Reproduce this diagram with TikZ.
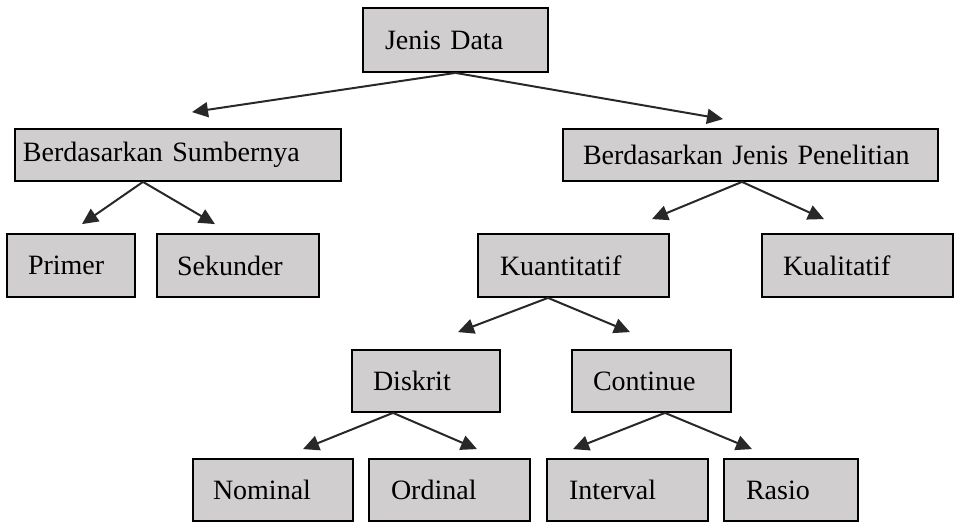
\documentclass[tikz,border=0pt]{standalone}
\usepackage{fontspec}
\setmainfont{Liberation Serif}
\usepackage{tikz}
\usetikzlibrary{arrows.meta}

\definecolor{boxgray}{RGB}{208,206,206}
\definecolor{arrowgray}{RGB}{40,40,40}

\begin{document}
\begin{tikzpicture}[
    x=0.5pt, y=-0.5pt,
    databox/.style={draw, fill=boxgray, line width=0.9pt, inner xsep=10.5pt,
        inner ysep=0pt, minimum height=31.5pt, align=left, text width=#1,
        font=\fontsize{14pt}{17pt}\selectfont},
    arrow/.style={-{Triangle[length=8pt, width=7.5pt]}, line width=1pt, arrowgray}
]
    \useasboundingbox[fill=white] (0,0) rectangle (955,522);

    % Root
    \node[databox=70.5pt, inner xsep=11pt, minimum height=32pt] (jd) at (455.5,40) {Jenis Data};

    % Level 1
    \node[databox=155pt, inner xsep=4pt, minimum height=26pt] (bs) at (178,155) {Berdasarkan Sumbernya};
    \node[databox=167.5pt, inner xsep=10pt, minimum height=26pt] (bjp) at (750.5,155) {Berdasarkan Jenis Penelitian};

    % Level 2
    \node[databox=43pt] (primer) at (71,265.5) {Primer};
    \node[databox=61pt, inner xsep=10pt] (sekunder) at (238,265.5) {Sekunder};
    \node[databox=73.5pt, inner xsep=11pt] (kuan) at (573.5,265.5) {Kuantitatif};
    \node[databox=74.5pt] (kual) at (857.5,265.5) {Kualitatif};

    % Level 3
    \node[databox=53pt, minimum height=31pt] (diskrit) at (426,381) {Diskrit};
    \node[databox=58.5pt, minimum height=31pt] (cont) at (651.5,381) {Continue};

    % Level 4
    \node[databox=60pt, inner xsep=10pt, minimum height=31pt] (nominal) at (273,490) {Nominal};
    \node[databox=58.5pt, inner xsep=11pt, minimum height=31pt] (ordinal) at (449.5,490) {Ordinal};
    \node[databox=58.5pt, inner xsep=11pt, minimum height=31pt] (interval) at (627.5,490) {Interval};
    \node[databox=45pt, inner xsep=11pt, minimum height=31pt] (rasio) at (791,490) {Rasio};

    % Connectors
    \draw[arrow] (jd.south) -- ([xshift=7pt, yshift=8pt]bs.north);
    \draw[arrow] (jd.south) -- ([xshift=-13.75pt, yshift=4.5pt]bjp.north);

    \draw[arrow] ([xshift=-17.5pt]bs.south) -- ([xshift=5.5pt, yshift=4.5pt]primer.north);
    \draw[arrow] ([xshift=-17.5pt]bs.south) -- ([xshift=-11.5pt, yshift=4.5pt]sekunder.north);

    \draw[arrow] ([xshift=-4.25pt]bjp.south) -- ([xshift=39.25pt, yshift=7pt]kuan.north);
    \draw[arrow] ([xshift=-4.25pt]bjp.south) -- ([xshift=-16.75pt, yshift=7pt]kual.north);

    \draw[arrow] ([xshift=-12.75pt]kuan.south) -- ([xshift=16pt, yshift=8.5pt]diskrit.north);
    \draw[arrow] ([xshift=-12.75pt]kuan.south) -- ([xshift=-10.75pt, yshift=8.5pt]cont.north);

    \draw[arrow] ([xshift=-16.5pt]diskrit.south) -- ([xshift=15pt, yshift=4.5pt]nominal.north);
    \draw[arrow] ([xshift=-16.5pt]diskrit.south) -- ([xshift=13.75pt, yshift=4.5pt]ordinal.north);

    \draw[arrow] ([xshift=6.75pt]cont.south) -- ([xshift=-27.25pt, yshift=4.5pt]interval.north);
    \draw[arrow] ([xshift=6.75pt]cont.south) -- ([xshift=-19.5pt, yshift=4.5pt]rasio.north);

\end{tikzpicture}
\end{document}
